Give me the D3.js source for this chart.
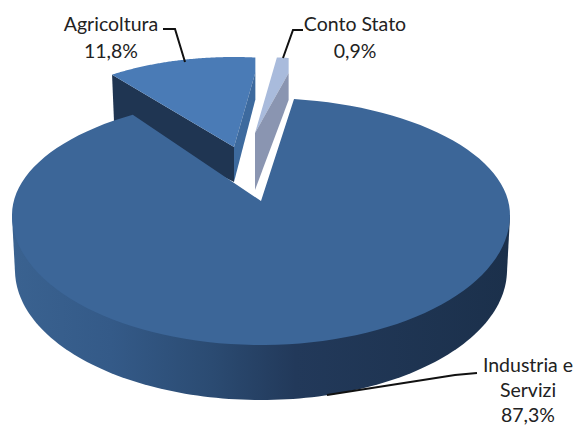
<!DOCTYPE html>
<html><head><meta charset="utf-8">
<script src="https://cdn.jsdelivr.net/npm/d3@7"></script>
<style>html,body{margin:0;padding:0;background:#fff}svg{display:block}text{font-family:Lato,sans-serif;font-size:19.5px;fill:#222}</style>
</head><body><div id="c"></div>
<script>
const categories=["Agricoltura","Conto Stato","Industria e Servizi"];
const values=[11.8,0.9,87.3];
const valueLabels=["11,8%","0,9%","87,3%"];
const faceColors=["#4a7bb6","#a9bbdc","#3c6698"];
const wallColors=["#1f3552","#8a95b1","#3d6a9e"];

const W=574,H=426,rad=Math.PI/180;
const svg=d3.select("#c").append("svg").attr("width",W).attr("height",H);
const defs=svg.append("defs");
const g=defs.append("linearGradient").attr("id","side");
[[0,"#3a6290"],[.2,"#345a88"],[.4,"#2b4b72"],[.57,"#22395a"],[1,"#1b304b"]]
 .forEach(d=>g.append("stop").attr("offset",d[0]).attr("stop-color",d[1]));

const pie=d3.pie().sort(null).startAngle(-36.5*rad).endAngle(323.5*rad);
const arcs=pie(values);
const line=d3.line();

const rim=(l,a)=>{const c=Math.cos(a);
  return [l.cx+l.rx*Math.sin(a), l.cy-(c>0?l.ryB:l.ryF)*c];};
const sweep=(a0,a1,n=120)=>d3.range(n+1).map(i=>a0+(a1-a0)*i/n);

const layouts=[
 {cx:234,cy:147,ax:234,ay:147,rx:205,ryB:90,ryF:90,k:1,shift:0},
 {cx:255,cy:133,ax:255,ay:133,rx:210,ryB:76,ryF:76,k:1,shift:0},
 {cx:261,cy:215,ax:261,ay:201,rx:249,ryB:117,ryF:130,k:1.0226,shift:-1.6*rad}
];
const span=(i)=>{const a=arcs[i],l=layouts[i];
  const s=a.startAngle+l.shift;
  return [s,s+(a.endAngle-a.startAngle)*l.k];};

// big slice outer wall (hull of upper and lower front rims)
const lb=layouts[2];
const lower={...lb,cy:270,rx:246};
const wall=d3.polygonHull(sweep(90*rad,270*rad).map(a=>rim(lb,a))
  .concat(sweep(90*rad,270*rad).map(a=>rim(lower,a))));
svg.append("path").attr("d",line(wall)+"Z").attr("fill","url(#side)");

const face=(i)=>{const l=layouts[i],[s,e]=span(i);
  return [[l.ax,l.ay]].concat(sweep(s,e).map(t=>rim(l,t)));};

// Agricoltura cut wall sits behind the large slice
{
  const l=layouts[0],[s]=span(0),L=rim(l,s),ap=[l.ax,l.ay];
  svg.append("path").attr("d",line([L,ap,[ap[0],ap[1]+35],[L[0]+2,L[1]+48]])+"Z").attr("fill",wallColors[0]);
}
svg.append("path").attr("d",line(face(2))+"Z").attr("fill",faceColors[2]);

[0,1].forEach(i=>{
  const l=layouts[i],[,e]=span(i);
  const R=rim(l,e),ap=[l.ax,l.ay];
  const apexDepth=i===0?35:57;
  svg.append("path").attr("d",line(face(i).concat([[R[0],R[1]+15]]))+"Z").attr("fill",faceColors[i]);
  svg.append("path")
    .attr("d",line([ap,[R[0],R[1]+15],[R[0],R[1]+42],[ap[0],ap[1]+apexDepth]])+"Z")
    .attr("fill",i===0?wallColors[2]:wallColors[1]);
});

[[[163,29],[175,29],[185,62]],[[303,30],[293,30],[283,58]],[[477,373],[455,375],[327,395]]]
 .forEach(p=>svg.append("path").attr("d",line(p)).attr("fill","none").attr("stroke","#111").attr("stroke-width",2));

const lab=(t,x,y)=>svg.append("text").attr("x",x).attr("y",y).attr("text-anchor","middle").text(t);
lab(categories[0],111,31);lab(valueLabels[0],111,58);
lab(categories[1],355,31);lab(valueLabels[1],355,58);
const w=categories[2].split(" ");
lab(w[0]+" "+w[1],528,372);lab(w[2],528,397);lab(valueLabels[2],528,422);
</script></body></html>
